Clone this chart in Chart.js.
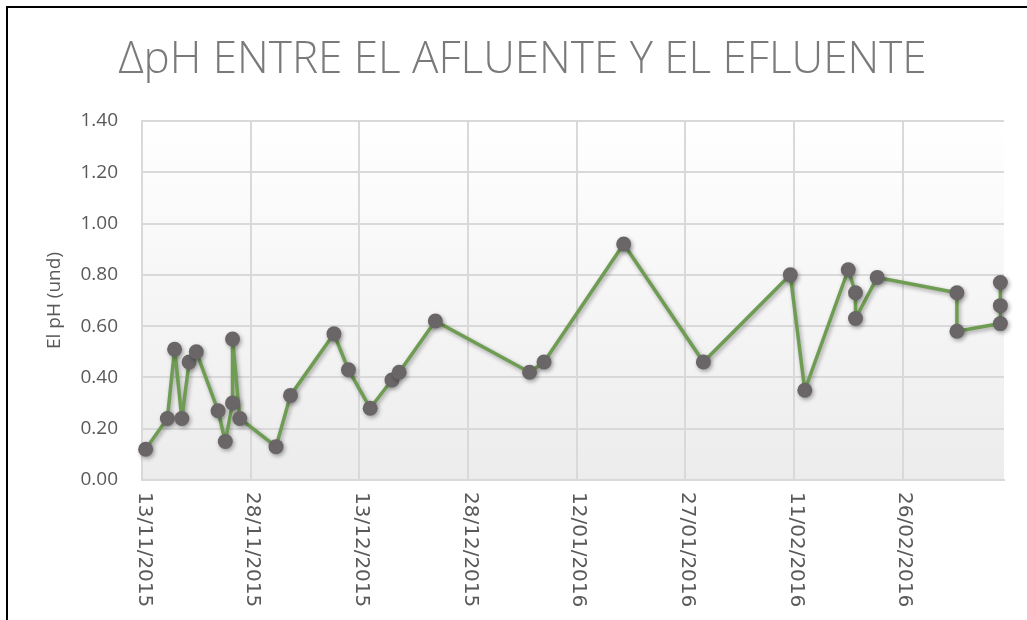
<!DOCTYPE html>
<html>
<head>
<meta charset="utf-8">
<script src="https://cdn.jsdelivr.net/npm/chart.js@4/dist/chart.umd.min.js"></script>
<style>
  html, body { margin: 0; padding: 0; background: #fff; }
  #wrap { width: 1027px; height: 620px; position: relative; }
</style>
</head>
<body>
<div id="wrap"><canvas id="c" width="1027" height="620"></canvas></div>
<script>
// sampling dates (dd/mm/yyyy) and the pH difference
const fechas = [
  "13/11/2015", "16/11/2015", "17/11/2015", "18/11/2015", "19/11/2015", "20/11/2015",
  "23/11/2015", "24/11/2015", "25/11/2015", "25/11/2015", "26/11/2015", "01/12/2015",
  "03/12/2015", "09/12/2015", "11/12/2015", "14/12/2015", "17/12/2015", "18/12/2015",
  "23/12/2015", "05/01/2016", "07/01/2016", "18/01/2016", "29/01/2016", "10/02/2016",
  "12/02/2016", "18/02/2016", "19/02/2016", "19/02/2016", "22/02/2016", "04/03/2016",
  "04/03/2016", "10/03/2016", "10/03/2016", "10/03/2016"
];
const deltaPH = [
  0.12, 0.24, 0.51, 0.24, 0.46, 0.50,
  0.27, 0.15, 0.30, 0.55, 0.24, 0.13,
  0.33, 0.57, 0.43, 0.28, 0.39, 0.42,
  0.62, 0.42, 0.46, 0.92, 0.46, 0.80,
  0.35, 0.82, 0.73, 0.63, 0.79, 0.73,
  0.58, 0.61, 0.68, 0.77
];
const ejeInicio = "13/11/2015";
const ejeFin = "11/03/2016";
const pasoDias = 15;
const yTicks = [0, 0.2, 0.4, 0.6, 0.8, 1.0, 1.2, 1.4];

const DAY = 86400000;
const toUTC = (s) => { const [d, m, y] = s.split("/").map(Number); return Date.UTC(y, m - 1, d); };
const base = toUTC(ejeInicio);
const dayOf = (s) => (toUTC(s) - base) / DAY;
const fmt = (n) => {
  const d = new Date(base + n * DAY);
  const p = (v) => String(v).padStart(2, "0");
  return p(d.getUTCDate()) + "/" + p(d.getUTCMonth() + 1) + "/" + d.getUTCFullYear();
};

// Excel date axis centres each point inside its day
const points = fechas.map((f, i) => ({ x: dayOf(f) + 0.5, y: deltaPH[i] }));

const GRID = "#d9d9d9";
const TEXT = "#595959";

const decor = {
  id: "decor",
  beforeDraw(chart) {
    const { ctx, chartArea: a } = chart;
    ctx.save();
    const g = ctx.createLinearGradient(0, a.top, 0, a.bottom);
    g.addColorStop(0, "#ffffff");
    g.addColorStop(1, "#ececec");
    ctx.fillStyle = g;
    ctx.fillRect(a.left, a.top, a.right - a.left, a.bottom - a.top);
    ctx.strokeStyle = "#000";
    ctx.lineWidth = 2;
    ctx.strokeRect(7, 7, 1200, 800);
    ctx.restore();
  },
  afterDraw(chart) {
    // x labels read top to bottom (rotated clockwise)
    const { ctx, chartArea: a, scales: { x } } = chart;
    ctx.save();
    ctx.font = "20px 'DejaVu Sans'";
    ctx.fillStyle = TEXT;
    ctx.textAlign = "left";
    ctx.textBaseline = "middle";
    x.ticks.forEach((t) => {
      ctx.save();
      ctx.translate(x.getPixelForValue(t.value) + 2, a.bottom + 12);
      ctx.rotate(Math.PI / 2);
      ctx.fillText(fmt(t.value), 0, 0);
      ctx.restore();
    });
    ctx.restore();
  },
  beforeDatasetDraw(chart) {
    const ctx = chart.ctx;
    ctx.save();
    ctx.shadowColor = "rgba(0,0,0,0.35)";
    ctx.shadowBlur = 4;
    ctx.shadowOffsetX = 1.5;
    ctx.shadowOffsetY = 2;
  },
  afterDatasetDraw(chart) { chart.ctx.restore(); },
};

new Chart(document.getElementById("c"), {
  type: "line",
  data: {
    datasets: [{
      data: points,
      borderColor: "#6e9c52",
      borderWidth: 3.5,
      borderJoinStyle: "round",
      borderCapStyle: "round",
      pointRadius: 7.5,
      pointHoverRadius: 7.5,
      pointBackgroundColor: "#6a6667",
      pointBorderColor: "#6a6667",
      pointBorderWidth: 0,
      tension: 0,
      clip: false,
    }],
  },
  options: {
    responsive: false,
    animation: false,
    devicePixelRatio: 1,
    layout: { padding: { left: 41, right: 23, top: 0, bottom: 0 } },
    plugins: {
      legend: { display: false },
      tooltip: { enabled: false },
      title: {
        display: true,
        text: "\u0394pH ENTRE EL AFLUENTE Y EL EFLUENTE",
        color: "#7a7a7a",
        font: { family: "'Open Sans'", size: 44, weight: "300", lineHeight: 1.2 },
        padding: { top: 34, bottom: 34.2 },
      },
    },
    scales: {
      x: {
        type: "linear",
        min: dayOf(ejeInicio),
        max: dayOf(ejeFin),
        afterBuildTicks: (s) => {
          s.ticks = [];
          for (let v = s.min; v < s.max; v += pasoDias) s.ticks.push({ value: v });
        },
        afterFit: (s) => { s.height = 140; },
        ticks: { display: false },
        grid: { color: GRID, lineWidth: 2, drawTicks: false },
        border: { color: GRID, width: 2 },
      },
      y: {
        min: 0,
        max: 1.4,
        afterBuildTicks: (s) => { s.ticks = yTicks.map((v) => ({ value: v })); },
        afterFit: (s) => { s.width = 101; },
        ticks: {
          padding: 24,
          color: TEXT,
          font: { family: "'Open Sans'", size: 19 },
          callback: (v) => Number(v).toFixed(2),
        },
        grid: { color: GRID, lineWidth: 2, drawTicks: false },
        border: { color: GRID, width: 2 },
        title: {
          display: true,
          text: "El pH (und)",
          color: TEXT,
          font: { family: "'Open Sans'", size: 19 },
          padding: { top: 2, bottom: 4 },
        },
      },
    },
  },
  plugins: [decor],
});
</script>
</body>
</html>
